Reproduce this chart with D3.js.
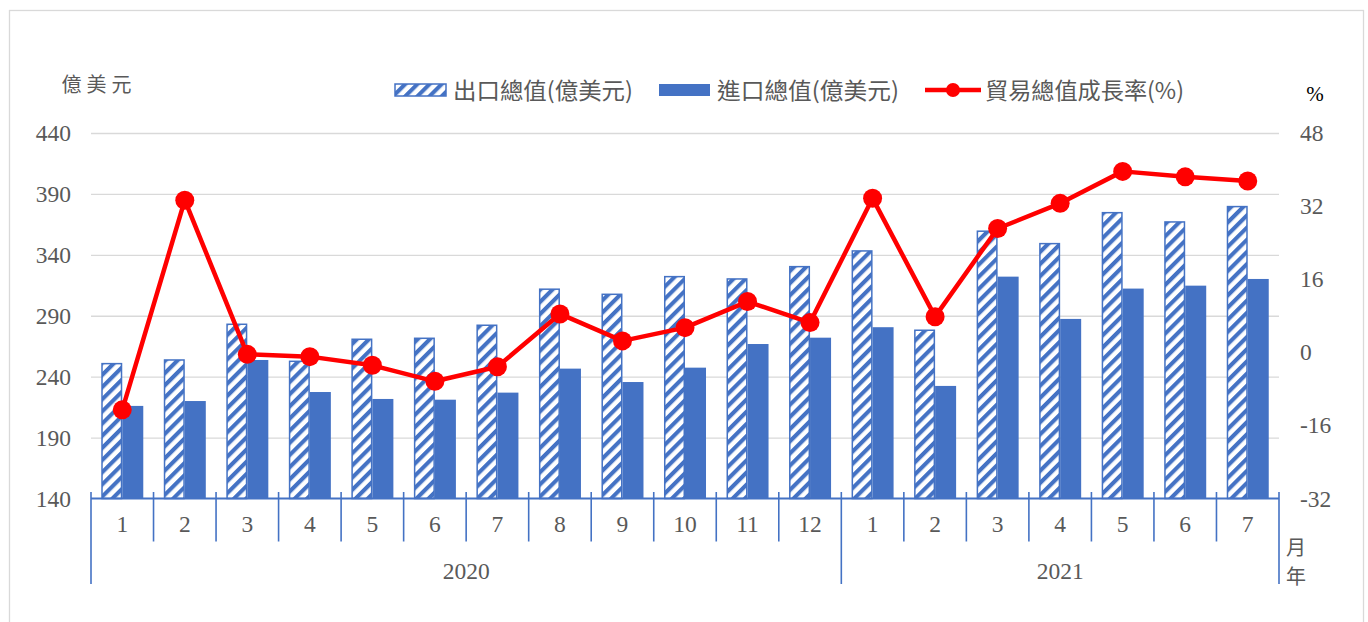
<!DOCTYPE html>
<html>
<head>
<meta charset="utf-8">
<script src="https://cdn.jsdelivr.net/npm/d3@7"></script>
<style>
  html, body { margin: 0; padding: 0; background: #fff; }
  svg { display: block; }
</style>
</head>
<body>
<svg id="chart" width="1368" height="622"></svg>
<script>
// ---- data ----
const months = ["1","2","3","4","5","6","7","8","9","10","11","12","1","2","3","4","5","6","7"];
const years = ["2020", "2021"];
const monthsPerYear = [12, 7];
const exportsVal = [250.7, 253.7, 283.0, 252.6, 270.7, 271.5, 282.2, 311.8, 307.6, 322.1, 320.2, 330.3, 343.2, 278.1, 359.4, 349.2, 374.6, 367.0, 379.6];
const importsVal = [216.0, 220.0, 253.7, 227.4, 221.7, 221.1, 226.9, 246.6, 235.6, 247.4, 266.8, 272.0, 280.6, 232.4, 322.1, 287.4, 312.3, 314.7, 320.2];
const growthVal = [-12.6, 33.3, -0.45, -0.95, -2.85, -6.35, -3.15, 8.4, 2.5, 5.4, 11.1, 6.5, 33.7, 7.8, 27.1, 32.6, 39.6, 38.4, 37.5];
const leftTicks = [140, 190, 240, 290, 340, 390, 440];
const rightTicks = [-32, -16, 0, 16, 32, 48];
const legendLabels = ["出口總值(億美元)", "進口總值(億美元)", "貿易總值成長率(%)"];
const leftUnit = "億美元";
const rightUnit = "%";
const xUnits = ["月", "年"];

// ---- setup ----
const svg = d3.select("#chart");
const BLUE = "#4472C4", RED = "#FF0000", GRID = "#D9D9D9", TXT = "#595959";
const serif = "'Liberation Serif', 'Times New Roman', serif";
const cjk = "'Noto Sans CJK TC', 'Noto Sans CJK SC', sans-serif";
const FS = 23.5;

const plotL = 91, plotR = 1279, plotT = 133, plotB = 498.5;

// outer border
svg.append("rect").attr("x", 9.5).attr("y", 10.5).attr("width", 1354).attr("height", 640)
  .attr("fill", "none").attr("stroke", GRID).attr("stroke-width", 1.3);

const idx = d3.range(months.length);
const x = d3.scaleBand().domain(idx).range([plotL, plotR]).paddingInner(0.328).paddingOuter(0.164);
const step = x.step();
const gapHalf = (step - x.bandwidth()) / 2;
const yL = d3.scaleLinear().domain([140, 440]).range([plotB, plotT]);
const yR = d3.scaleLinear().domain([-32, 48]).range([plotB, plotT]);

// pattern
const defs = svg.append("defs");
const pat = defs.append("pattern").attr("id", "hatch").attr("patternUnits", "userSpaceOnUse")
  .attr("width", 8.6).attr("height", 8.6).attr("patternTransform", "rotate(45)");
pat.append("rect").attr("width", 8.6).attr("height", 8.6).attr("fill", "#fff");
pat.append("rect").attr("x", 0).attr("width", 4.1).attr("height", 8.6).attr("fill", BLUE);

// gridlines
const grid = svg.append("g").attr("transform", `translate(${plotL},0)`)
  .call(d3.axisLeft(yL).tickValues(leftTicks.slice(1)).tickSize(-(plotR - plotL)).tickFormat(""));
grid.select(".domain").remove();
grid.selectAll("line").attr("stroke", GRID).attr("stroke-width", 1.3);

// left axis labels
const ga = svg.append("g").attr("transform", `translate(${plotL},0)`)
  .call(d3.axisLeft(yL).tickValues(leftTicks).tickSize(0).tickPadding(20).tickFormat(d => String(d)));
ga.select(".domain").remove();
ga.selectAll("text").attr("font-family", serif).attr("font-size", FS).attr("fill", TXT);

// right axis labels
const gr = svg.append("g").attr("transform", `translate(${plotR},0)`)
  .call(d3.axisRight(yR).tickValues(rightTicks).tickSize(0).tickPadding(21).tickFormat(d => String(d)));
gr.select(".domain").remove();
gr.selectAll("text").attr("font-family", serif).attr("font-size", FS).attr("fill", TXT);

// bars
const bw = x.bandwidth() / 2;
svg.append("g").selectAll("rect").data(idx).join("rect")
  .attr("x", i => x(i) + 0.75).attr("width", bw - 1.5)
  .attr("y", i => yL(exportsVal[i])).attr("height", i => yL(140) - yL(exportsVal[i]))
  .attr("fill", "url(#hatch)").attr("stroke", BLUE).attr("stroke-width", 1.5);
svg.append("g").selectAll("rect").data(idx).join("rect")
  .attr("x", i => x(i) + bw).attr("width", bw)
  .attr("y", i => yL(importsVal[i])).attr("height", i => yL(140) - yL(importsVal[i]))
  .attr("fill", BLUE);

// bottom axis
const ax = svg.append("g");
ax.append("line").attr("x1", plotL).attr("x2", plotR).attr("y1", plotB).attr("y2", plotB)
  .attr("stroke", BLUE).attr("stroke-width", 1.8);
const yearStarts = [0, monthsPerYear[0], monthsPerYear[0] + monthsPerYear[1]];
const bounds = d3.range(months.length + 1);
ax.selectAll("line.sep").data(bounds).join("line").attr("class", "sep")
  .attr("x1", b => b < months.length ? x(b) - gapHalf : x(b - 1) + x.bandwidth() + gapHalf)
  .attr("x2", b => b < months.length ? x(b) - gapHalf : x(b - 1) + x.bandwidth() + gapHalf)
  .attr("y1", plotB - 6.5)
  .attr("y2", b => yearStarts.includes(b) ? 584 : 541.5)
  .attr("stroke", BLUE).attr("stroke-width", 1.6);

const gb = svg.append("g").attr("transform", `translate(0,${plotB})`)
  .call(d3.axisBottom(x).tickSize(0).tickPadding(17).tickFormat(i => months[i]));
gb.select(".domain").remove();
gb.selectAll("text").attr("font-family", serif).attr("font-size", FS).attr("fill", TXT);

// year labels
let acc = 0;
years.forEach((yr, k) => {
  const first = acc, last = acc + monthsPerYear[k] - 1;
  acc += monthsPerYear[k];
  const cx = ((x(first) - gapHalf) + (x(last) + x.bandwidth() + gapHalf)) / 2;
  svg.append("text").attr("x", cx).attr("y", 571).attr("dy", "0.35em")
    .attr("text-anchor", "middle").attr("font-family", serif).attr("font-size", FS)
    .attr("fill", TXT).text(yr);
});

// x unit labels
xUnits.forEach((t, k) => {
  svg.append("text").attr("x", 1296).attr("y", 548 + k * 29).attr("dy", "0.35em")
    .attr("text-anchor", "middle").attr("font-family", cjk).attr("font-size", 20)
    .attr("fill", TXT).text(t);
});

// growth line
const line = d3.line().x(i => x(i) + x.bandwidth() / 2).y(i => yR(growthVal[i]));
svg.append("path").datum(idx).attr("d", line).attr("fill", "none")
  .attr("stroke", RED).attr("stroke-width", 4.5).attr("stroke-linejoin", "round");
svg.append("g").selectAll("circle").data(idx).join("circle")
  .attr("cx", i => x(i) + x.bandwidth() / 2).attr("cy", i => yR(growthVal[i]))
  .attr("r", 9.5).attr("fill", RED);

// unit labels
svg.append("text").attr("x", 99).attr("y", 85).attr("dy", "0.35em").attr("text-anchor", "middle")
  .attr("font-family", cjk).attr("font-size", 20).attr("letter-spacing", 5).attr("fill", TXT).text(leftUnit);
svg.append("text").attr("x", 1315).attr("y", 94).attr("dy", "0.35em").attr("text-anchor", "middle")
  .attr("font-family", serif).attr("font-size", 21).attr("fill", "#000").text(rightUnit);

// legend
const lg = svg.append("g");
const ly = 90;
lg.append("rect").attr("x", 395).attr("y", ly - 6).attr("width", 51).attr("height", 12)
  .attr("fill", "url(#hatch)").attr("stroke", BLUE).attr("stroke-width", 1.5);
lg.append("text").attr("x", 453).attr("y", ly + 1).attr("dy", "0.35em")
  .attr("font-family", cjk).attr("font-size", 23).attr("fill", TXT)
  .attr("textLength", 180).attr("lengthAdjust", "spacingAndGlyphs").text(legendLabels[0]);
lg.append("rect").attr("x", 659).attr("y", ly - 6).attr("width", 51).attr("height", 12).attr("fill", BLUE);
lg.append("text").attr("x", 717).attr("y", ly + 1).attr("dy", "0.35em")
  .attr("font-family", cjk).attr("font-size", 23).attr("fill", TXT)
  .attr("textLength", 182).attr("lengthAdjust", "spacingAndGlyphs").text(legendLabels[1]);
lg.append("line").attr("x1", 925).attr("x2", 981).attr("y1", ly).attr("y2", ly)
  .attr("stroke", RED).attr("stroke-width", 4.5);
lg.append("circle").attr("cx", 953).attr("cy", ly).attr("r", 7).attr("fill", RED);
lg.append("text").attr("x", 985).attr("y", ly + 1).attr("dy", "0.35em")
  .attr("font-family", cjk).attr("font-size", 23).attr("fill", TXT)
  .attr("textLength", 199).attr("lengthAdjust", "spacingAndGlyphs").text(legendLabels[2]);
</script>
</body>
</html>
